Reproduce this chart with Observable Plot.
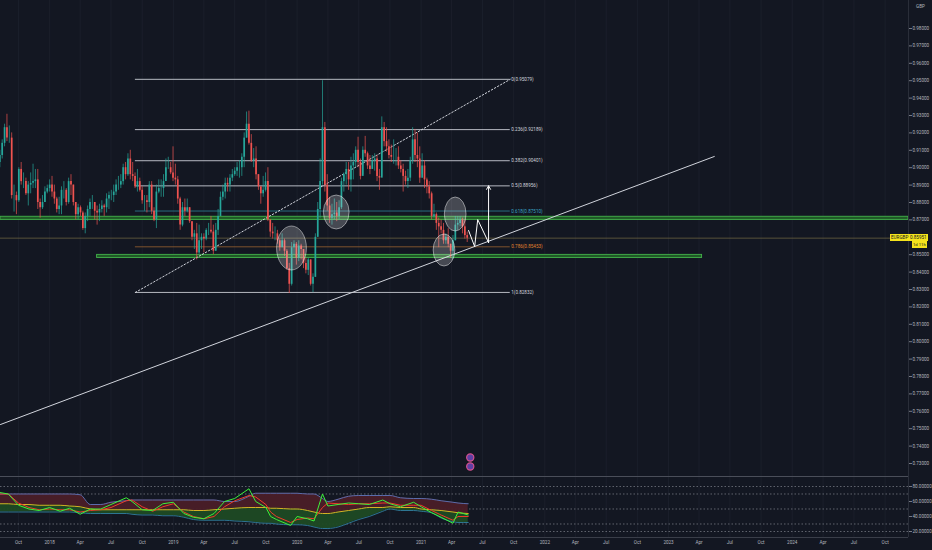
<!DOCTYPE html>
<html><head><meta charset="utf-8">
<script src="https://cdn.jsdelivr.net/npm/d3@7"></script>
<script src="https://cdn.jsdelivr.net/npm/@observablehq/plot@0.6"></script>
<style>
html,body{margin:0;padding:0;background:#131722;overflow:hidden}
#wrap{position:relative;width:932px;height:550px;background:#131722;font-family:Roboto,"Liberation Sans",sans-serif}
#wrap svg{display:block}
.tag{position:absolute;background:#f5e31c;color:#131722;font-size:4.6px;line-height:7px;padding:0 1px;white-space:nowrap;font-family:Roboto,"Liberation Sans",sans-serif}
.gbp{position:absolute;color:#b2b5be;font-size:4.6px;line-height:7px}
</style></head><body><div id="wrap"></div>
<script>
// ---------- view ----------
const viewStart = "2017-08-09";
const viewEnd = "2024-12-09";

// ---------- weekly EURGBP candles (from 2017-08-07) ----------
const firstWeek = "2017-08-07";
const firstOpen = 0.9030;
const closes = [
0.9070,0.9140,0.9230,0.9170,0.9170,0.8840,0.8840,0.8810,0.8990,0.8920,0.8920,0.8850,0.8900,0.8910,0.8920,0.8930,0.8800,0.8770,0.8800,0.8860,0.8880,
0.8900,0.8860,0.8820,0.8760,0.8780,0.8870,0.8870,0.8800,0.8920,0.8900,0.8800,0.8730,0.8770,0.8740,0.8650,0.8720,0.8760,0.8800,0.8800,0.8750,0.8740,0.8760,0.8780,0.8770,0.8820,0.8840,0.8840,0.8860,0.8900,0.8900,0.8920,0.9000,0.8960,0.9050,0.8960,0.8950,0.8890,0.8920,0.8870,0.8810,0.8810,0.8800,0.8900,0.8750,0.8700,0.8860,0.8880,0.8880,0.8920,0.9000,0.9000,0.8970,0.8940,
0.8930,0.8820,0.8670,0.8770,0.8750,0.8770,0.8690,0.8600,0.8620,0.8510,0.8580,0.8600,0.8590,0.8640,0.8640,0.8630,0.8520,0.8640,0.8720,0.8830,0.8860,0.8910,0.8900,0.8940,0.8960,0.8980,0.9000,0.9000,0.9060,0.9170,0.9250,0.9140,0.9040,0.9050,0.8960,0.8890,0.8850,0.8870,0.8920,0.8700,0.8630,0.8620,0.8620,0.8580,0.8540,0.8580,0.8520,0.8420,0.8330,0.8540,0.8560,0.8480,
0.8550,0.8530,0.8450,0.8410,0.8470,0.8330,0.8370,0.8600,0.8760,0.8920,0.9230,0.8900,0.8780,0.8710,0.8730,0.8740,0.8720,0.8770,0.8920,0.8960,0.8990,0.8930,0.9010,0.9030,0.9100,0.9030,0.8950,0.9100,0.9080,0.9010,0.8990,0.9040,0.9050,0.8950,0.8940,0.9230,0.9150,0.9120,0.9070,0.9060,0.9060,0.9060,0.9010,0.8990,0.8950,0.8920,0.8940,0.9040,0.9160,0.9070,0.9050,0.8940,
0.9010,0.8930,0.8890,0.8850,0.8720,0.8730,0.8680,0.8660,0.8640,0.8580,0.8600,0.8560,0.8520,0.8580,0.8670,0.8680,0.8700,0.8660,0.8610,0.8595];
const highs = [
0.9100,0.9160,0.9250,0.9307,0.9240,0.9200,0.8900,0.8860,0.9000,0.9030,0.8970,0.8940,0.8920,0.8970,0.9020,0.8990,0.8990,0.8820,0.8840,0.8890,0.8900,
0.8930,0.8950,0.8900,0.8830,0.8830,0.8890,0.8920,0.8880,0.8940,0.8960,0.8900,0.8800,0.8790,0.8780,0.8750,0.8740,0.8780,0.8820,0.8840,0.8800,0.8780,0.8790,0.8810,0.8790,0.8850,0.8860,0.8870,0.8900,0.8930,0.8950,0.8960,0.9020,0.9030,0.9080,0.9100,0.9030,0.8970,0.8990,0.8940,0.8890,0.8840,0.8840,0.8920,0.8920,0.8770,0.8900,0.8930,0.8930,0.8960,0.9050,0.9060,0.9030,0.9120,
0.9020,0.8950,0.8830,0.8800,0.8820,0.8820,0.8770,0.8690,0.8640,0.8680,0.8670,0.8620,0.8620,0.8650,0.8680,0.8720,0.8670,0.8680,0.8760,0.8860,0.8900,0.8940,0.8940,0.8960,0.8990,0.9000,0.9030,0.9040,0.9080,0.9200,0.9320,0.9325,0.9190,0.9110,0.9120,0.8960,0.8890,0.8950,0.8970,0.9000,0.8700,0.8680,0.8660,0.8640,0.8590,0.8620,0.8590,0.8530,0.8450,0.8570,0.8580,0.8570,
0.8580,0.8560,0.8530,0.8480,0.8480,0.8470,0.8390,0.8620,0.8800,0.9050,0.9500,0.9260,0.8960,0.8830,0.8790,0.8820,0.8800,0.8810,0.8940,0.8970,0.9030,0.9030,0.9060,0.9080,0.9120,0.9175,0.9050,0.9120,0.9180,0.9090,0.9070,0.9070,0.9080,0.9070,0.8990,0.9292,0.9260,0.9230,0.9160,0.9130,0.9160,0.9110,0.9120,0.9040,0.9020,0.8980,0.8990,0.9060,0.9230,0.9220,0.9200,0.9120,
0.9080,0.9040,0.8940,0.8920,0.8860,0.8790,0.8740,0.8710,0.8700,0.8680,0.8620,0.8650,0.8560,0.8610,0.8720,0.8720,0.8720,0.8710,0.8700,0.8630];
const lows = [
0.9000,0.9050,0.9120,0.9150,0.9140,0.8820,0.8745,0.8730,0.8800,0.8900,0.8880,0.8840,0.8780,0.8850,0.8880,0.8880,0.8760,0.8710,0.8760,0.8800,0.8850,
0.8860,0.8830,0.8790,0.8740,0.8730,0.8730,0.8820,0.8780,0.8790,0.8840,0.8780,0.8700,0.8700,0.8720,0.8640,0.8620,0.8690,0.8720,0.8760,0.8700,0.8670,0.8690,0.8740,0.8720,0.8740,0.8760,0.8810,0.8800,0.8840,0.8870,0.8880,0.8900,0.8930,0.8950,0.8930,0.8920,0.8880,0.8860,0.8860,0.8790,0.8750,0.8740,0.8770,0.8730,0.8690,0.8650,0.8850,0.8830,0.8830,0.8950,0.8990,0.8960,0.8920,
0.8900,0.8790,0.8640,0.8660,0.8720,0.8740,0.8680,0.8580,0.8530,0.8470,0.8500,0.8530,0.8510,0.8580,0.8610,0.8620,0.8500,0.8520,0.8610,0.8720,0.8810,0.8820,0.8860,0.8860,0.8920,0.8950,0.8950,0.8940,0.8950,0.9000,0.9170,0.9130,0.9030,0.9000,0.8930,0.8870,0.8790,0.8830,0.8860,0.8690,0.8600,0.8590,0.8580,0.8560,0.8520,0.8540,0.8490,0.8410,0.8277,0.8320,0.8500,0.8440,
0.8460,0.8470,0.8420,0.8390,0.8380,0.8320,0.8282,0.8370,0.8600,0.8710,0.8900,0.8860,0.8750,0.8680,0.8670,0.8700,0.8690,0.8700,0.8760,0.8860,0.8900,0.8870,0.8860,0.8930,0.9000,0.9000,0.8930,0.8960,0.9060,0.8990,0.8960,0.8990,0.8980,0.8920,0.8870,0.8950,0.9120,0.9090,0.9050,0.9030,0.9020,0.9010,0.8990,0.8970,0.8860,0.8900,0.8880,0.8920,0.9020,0.9030,0.9000,0.8910,
0.8960,0.8880,0.8850,0.8820,0.8700,0.8710,0.8640,0.8540,0.8620,0.8560,0.8560,0.8540,0.8480,0.8472,0.8580,0.8640,0.8660,0.8620,0.8590,0.8570];
const lastPrice = 0.85951;

// ---------- axes (0.86000 is hidden behind the last-price tag in the reference) ----------
const priceTicks = [0.73,0.74,0.75,0.76,0.77,0.78,0.79,0.80,0.81,0.82,0.83,0.84,0.85,0.87,0.88,0.89,0.90,0.91,0.92,0.93,0.94,0.95,0.96,0.97,0.98];
const timeTicks = ["2017-10-01","2018-01-01","2018-04-01","2018-07-01","2018-10-01","2019-01-01","2019-04-01","2019-07-01","2019-10-01","2020-01-01","2020-04-01","2020-07-01","2020-10-01","2021-01-01","2021-04-01","2021-07-01","2021-10-01","2022-01-01","2022-04-01","2022-07-01","2022-10-01","2023-01-01","2023-04-01","2023-07-01","2023-10-01","2024-01-01","2024-04-01","2024-07-01","2024-10-01"];
const monthNames = ["Jan","Feb","Mar","Apr","May","Jun","Jul","Aug","Sep","Oct","Nov","Dec"];

// ---------- fibonacci retracement ----------
const fibStart = "2018-09-11", fibEnd = "2021-09-21";
const fibLevels = ["0","0.236","0.382","0.5","0.618","0.786","1"];
const fibPrices = [0.95079,0.92189,0.90401,0.88956,0.87510,0.85453,0.82832];
const fibLineColors = ["#c9ccd4","#c9ccd4","#c9ccd4","#c9ccd4","#2b7488","#8a5a2e","#c9ccd4"];
const fibTextColors = ["#d1d4dc","#d1d4dc","#d1d4dc","#d1d4dc","#3aa6c4","#e0822e","#d1d4dc"];

// ---------- drawings ----------
const zoneStarts = ["2017-08-09","2018-05-21"];
const zoneEnds = ["2024-12-09","2023-04-10"];
const zoneLow = [0.8700,0.8481];
const zoneHigh = [0.8718,0.8499];
const trendDates = ["2017-08-09","2023-05-16"];
const trendPrices = [0.75241,0.90644];
const zigDates = ["2021-05-21","2021-06-08","2021-06-17","2021-07-19"];
const zigPrices = [0.8639,0.8547,0.8702,0.8570];
const arrowDate = "2021-07-19", arrowFrom = 0.8570, arrowTo = 0.88956;
const ellDates = ["2019-12-17","2020-04-27","2021-04-13","2021-03-11"];
const ellPrices = [0.85356,0.87425,0.87310,0.85241];
const ellHalfDays = [44,38,32,32];
const ellHalfPrice = [0.01264,0.00977,0.00977,0.0092];
const eventDates = ["2021-05-26","2021-05-26"];
const eventPrices = [0.73345,0.72828];

// ---------- indicator (RSI with bands) ----------
const rsiDates = ["2017-08-07","2017-09-01","2017-10-01","2017-11-01","2017-12-01","2018-01-01","2018-02-01","2018-03-01","2018-04-01","2018-05-01","2018-06-01","2018-07-01","2018-08-15","2018-09-01","2018-10-01","2018-11-01","2018-12-01","2019-01-01","2019-02-01","2019-03-01","2019-04-01","2019-05-01","2019-06-01","2019-07-01","2019-08-12","2019-09-01","2019-10-01","2019-10-15","2019-11-01","2019-12-13","2020-01-01","2020-02-01","2020-02-20","2020-03-16","2020-04-01","2020-05-01","2020-06-01","2020-07-01","2020-08-01","2020-09-10","2020-10-01","2020-11-01","2020-12-10","2021-01-01","2021-02-01","2021-03-01","2021-04-05","2021-04-20","2021-05-20"];
const rsiUpper = [70,70,70,70,70,70,70,70,69,56,56,59,61,62,62,62,62,62,62,62,62,62,60,60,67,71,71,71,71,71,71,70,70,64,60,63,67,68,68,68,68,65,64,64,63,61,59,58,57];
const rsiLower = [46,46,46,46,46,46,46,46,45,44,44,44,44,43,42,42,41,41,39,36,35,35,35,34,33,32,31,31,30,29,29,28,26,24,24,26,31,36,40,47,50,48,48,47,45,38,33,32,32];
const rsiMid = [57,57,56,56,55,55,55,54,53,50,49,49,49,49,49,49,49,49,49,48,48,49,50,51,52,52,52,51,51,50,50,48,46,44,44,46,48,50,52,52,53,52,52,50,49,48,46,45,44];
const rsiGreen = [72,70,55,50,48,52,47,51,43,50,50,56,65,60,49,48,57,59,44,39,37,44,60,64,77,60,52,40,36,28,40,37,34,70,54,56,58,57,56,62,57,53,59,53,45,39,31,46,42];
const rsiRed = [70,70,58,52,49,50,49,49,46,48,49,52,61,62,53,47,53,57,46,40,37,40,53,61,68,66,56,46,40,32,36,38,37,52,58,57,56,57,57,58,58,55,55,55,48,42,35,40,40];
const rsiLevels = [80,70,50,30,20];
const rsiTicks = [20,40,60,80];

// ---------- build ----------
const P = s => new Date(s + "T00:00:00Z");
const UP = "#26a69a", DOWN = "#ef5350";
const xDomain = [P(viewStart), P(viewEnd)];
const start = P(firstWeek);
const candles = closes.map((c, i) => {
  const open = i ? closes[i - 1] : firstOpen;
  return {date: d3.utcDay.offset(start, 7 * i), open, high: highs[i], low: lows[i], close: c, color: c >= open ? UP : DOWN};
});
const fib = fibLevels.map((lv, i) => ({level: lv, price: fibPrices[i], label: `${lv}(${fibPrices[i].toFixed(5)})`, line: fibLineColors[i], text: fibTextColors[i]}));
const zones = zoneStarts.map((s, i) => ({x1: P(s), x2: P(zoneEnds[i]), y1: zoneLow[i], y2: zoneHigh[i]}));
const trend = trendDates.map((d, i) => ({date: P(d), price: trendPrices[i]}));
const fibDiag = [{date: P(fibStart), price: fibPrices[6]}, {date: P(fibEnd), price: fibPrices[0]}];
const zig = zigDates.map((d, i) => ({date: P(d), price: zigPrices[i]}));
const events = eventDates.map((d, i) => ({date: P(d), price: eventPrices[i]}));
const rsi = rsiDates.map((d, i) => ({date: P(d), upper: rsiUpper[i], lower: rsiLower[i], mid: rsiMid[i], green: rsiGreen[i], red: rsiRed[i]}));

const font = {background: "transparent", color: "#b2b5be", fontSize: "4.6px", fontFamily: "Roboto, 'Liberation Sans', sans-serif", overflow: "visible"};

const main = Plot.plot({
  width: 932, height: 476, marginLeft: 0, marginRight: 24, marginTop: 0, marginBottom: 0,
  style: font,
  color: {type: "identity"},
  x: {type: "utc", domain: xDomain, axis: null},
  y: {domain: [0.72253, 0.99609], axis: null, label: null},
  marks: [
    Plot.ruleX(timeTicks.map(P), {stroke: "#1b1f2b", strokeWidth: 1}),
    Plot.rect(zones, {x1: "x1", x2: "x2", y1: "y1", y2: "y2", fill: "#1f5a26", stroke: "#43b14b", strokeWidth: 0.9}),
    Plot.ruleY([lastPrice], {stroke: "#7a6e45", strokeOpacity: 0.85, strokeWidth: 0.8}),
    Plot.ruleY(fib, {y: "price", x1: () => P(fibStart), x2: () => P(fibEnd), stroke: "line", strokeWidth: 1, strokeOpacity: 0.9}),
    Plot.line(fibDiag, {x: "date", y: "price", stroke: "#d1d4dc", strokeDasharray: "1.5,2", strokeWidth: 1}),
    Plot.line(trend, {x: "date", y: "price", stroke: "#d1d4dc", strokeWidth: 1}),
    Plot.ruleX(candles, {x: "date", y1: "low", y2: "high", stroke: "color", strokeWidth: 0.7}),
    Plot.ruleX(candles, {x: "date", y1: "open", y2: "close", stroke: "color", strokeWidth: 1.7}),
    Plot.text(fib, {x: () => P(fibEnd), y: "price", text: "label", fill: "text", textAnchor: "start", dx: 1, fontSize: 4.6}),
    Plot.line(zig, {x: "date", y: "price", stroke: "#ffffff", strokeWidth: 1}),
    Plot.arrow([{a: 1}], {x1: () => P(arrowDate), x2: () => P(arrowDate), y1: () => arrowFrom, y2: () => arrowTo, stroke: "#ffffff", strokeWidth: 1, headLength: 6}),
    Plot.dot(events, {x: "date", y: "price", r: 3.6, fill: "#5e3fa3", stroke: "#d7518f", strokeWidth: 1.2}),
    Plot.ruleX([xDomain[1]], {stroke: "#2a2e39"}),
    Plot.axisY(priceTicks, {anchor: "right", tickFormat: d3.format(".5f"), tickSize: 3, tickPadding: 1, fontSize: 4.6, label: null, stroke: "#787b86"})
  ]
});

// translucent ellipses drawn through the plot's scales
const sx = main.scale("x"), sy = main.scale("y");
const eg = d3.select(main).append("g");
ellDates.forEach((d, i) => {
  const dt = P(d);
  const cx = sx.apply(dt), cy = sy.apply(ellPrices[i]);
  const rx = sx.apply(d3.utcDay.offset(dt, ellHalfDays[i])) - cx;
  const ry = sy.apply(ellPrices[i] - ellHalfPrice[i]) - cy;
  eg.append("ellipse").attr("cx", cx).attr("cy", cy).attr("rx", rx).attr("ry", ry)
    .attr("fill", "#ffffff").attr("fill-opacity", 0.22).attr("stroke", "#ffffff").attr("stroke-opacity", 0.45).attr("stroke-width", 1);
});

const ind = Plot.plot({
  width: 932, height: 74, marginLeft: 0, marginRight: 24, marginTop: 0, marginBottom: 13,
  style: font,
  x: {type: "utc", domain: xDomain, axis: null},
  y: {domain: [12, 93.333], axis: null, label: null},
  marks: [
    Plot.ruleX(timeTicks.map(P), {stroke: "#1b1f2b", strokeWidth: 1}),
    Plot.ruleY(rsiLevels, {stroke: "#9598a1", strokeDasharray: "1.5,2", strokeOpacity: 0.75, strokeWidth: 0.8}),
    Plot.areaY(rsi, {x: "date", y1: "mid", y2: "upper", fill: "#4a1d28", fillOpacity: 0.95, curve: "monotone-x"}),
    Plot.areaY(rsi, {x: "date", y1: "lower", y2: "mid", fill: "#1d4a24", fillOpacity: 0.95, curve: "monotone-x"}),
    Plot.line(rsi, {x: "date", y: "upper", stroke: "#5a6cab", strokeWidth: 1, curve: "monotone-x"}),
    Plot.line(rsi, {x: "date", y: "lower", stroke: "#2d7592", strokeWidth: 1, curve: "monotone-x"}),
    Plot.line(rsi, {x: "date", y: "mid", stroke: "#d6b125", strokeWidth: 1, curve: "monotone-x"}),
    Plot.line(rsi, {x: "date", y: "red", stroke: "#ee3b2b", strokeWidth: 1}),
    Plot.line(rsi, {x: "date", y: "green", stroke: "#3df03a", strokeWidth: 1}),
    Plot.ruleY([93.333], {stroke: "#4a4e59", strokeWidth: 1}),
    Plot.ruleY([12], {stroke: "#3a3e49", strokeWidth: 1}),
    Plot.ruleX([xDomain[1]], {stroke: "#2a2e39"}),
    Plot.axisY(rsiTicks, {anchor: "right", tickFormat: d3.format(".5f"), tickSize: 3, tickPadding: 1, fontSize: 4.6, label: null, stroke: "#787b86"}),
    Plot.axisX(timeTicks.map(P), {anchor: "bottom", tickSize: 0, tickPadding: 3, fontSize: 4.6, label: null,
      tickFormat: d => d.getUTCMonth() === 0 ? String(d.getUTCFullYear()) : monthNames[d.getUTCMonth()]})
  ]
});

const wrap = document.getElementById("wrap");
wrap.appendChild(main);
wrap.appendChild(ind);

// last price tag positioned via the y scale
const ly = sy.apply(lastPrice);
const t1 = document.createElement("div"); t1.className = "tag"; t1.textContent = "EURGBP";
t1.style.left = "890px"; t1.style.top = (ly - 4) + "px";
const t2 = document.createElement("div"); t2.className = "tag"; t2.textContent = d3.format(".5f")(lastPrice);
t2.style.left = "909px"; t2.style.top = (ly - 4) + "px";
const t3 = document.createElement("div"); t3.className = "tag"; t3.textContent = "1d 11h"; t3.style.fontSize = "4.2px";
t3.style.left = "912px"; t3.style.top = (ly + 3.5) + "px";
const g = document.createElement("div"); g.className = "gbp"; g.textContent = "GBP";
g.style.left = "916px"; g.style.top = "3px";
[t1, t2, t3, g].forEach(e => wrap.appendChild(e));
</script></body></html>
